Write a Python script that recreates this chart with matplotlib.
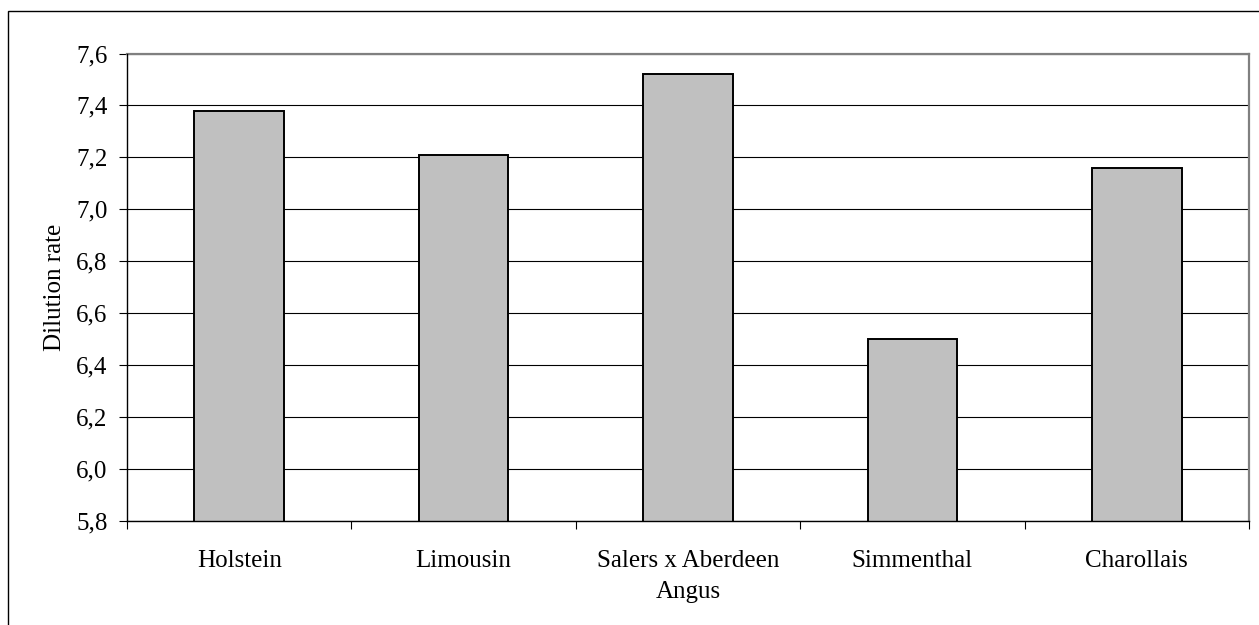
import matplotlib
matplotlib.use("Agg")
import matplotlib.pyplot as plt
from matplotlib.patches import Rectangle
from matplotlib.ticker import FixedLocator, FuncFormatter
import numpy as np

breeds = ["Holstein", "Limousin", "Salers x Aberdeen\nAngus", "Simmenthal", "Charollais"]
dilution_rate = [7.38, 7.21, 7.52, 6.50, 7.16]
y_ticks = [5.8, 6.0, 6.2, 6.4, 6.6, 6.8, 7.0, 7.2, 7.4, 7.6]

plt.rcParams["font.family"] = ["Liberation Serif", "DejaVu Serif"]

W, H = 1259, 625
fig = plt.figure(figsize=(W / 100, H / 100), dpi=100)
fig.patch.set_facecolor("white")

left, right, top, bottom = 127, 1249, 53.5, 520.5
ax = fig.add_axes([left / W, 1 - bottom / H, (right - left) / W, (bottom - top) / H])

x = np.arange(len(breeds))
ax.bar(x, dilution_rate, width=0.4, bottom=0, color="#c0c0c0",
       edgecolor="black", linewidth=1.4, zorder=3)

ax.set_xlim(-0.5, len(breeds) - 0.5)
ax.set_ylim(y_ticks[0], y_ticks[-1])

ax.yaxis.set_major_locator(FixedLocator(y_ticks))
ax.yaxis.set_major_formatter(FuncFormatter(lambda v, p: f"{v:.1f}".replace(".", ",")))
ax.grid(axis="y", color="black", linewidth=0.8, zorder=1)
ax.set_axisbelow(True)

# category labels centred, tick marks between categories
ax.set_xticks(x)
ax.set_xticklabels(breeds, fontsize=18, linespacing=1.55)
ax.tick_params(axis="x", which="major", length=0, pad=21)
ax.set_xticks(np.arange(-0.5, len(breeds)), minor=True)
ax.tick_params(axis="x", which="minor", length=6, width=0.8, direction="out", color="black")
ax.tick_params(axis="y", length=6, width=0.8, direction="out", labelsize=18, pad=8)

ax.set_ylabel("Dilution rate", fontsize=18)
ax.yaxis.set_label_coords(-(left - 66) / (right - left), 0.5)

for side in ("top", "right"):
    ax.spines[side].set_color("#808080")
    ax.spines[side].set_linewidth(1.6)
for side in ("left", "bottom"):
    ax.spines[side].set_color("black")
    ax.spines[side].set_linewidth(1.0)
    ax.spines[side].set_zorder(4)

# outer chart frame
fig.patches.append(Rectangle((8 / W, -0.05), 1.1, 1 - 11 / H + 0.05,
                             transform=fig.transFigure, fill=False,
                             edgecolor="black", linewidth=1.0, clip_on=False))

fig.savefig("out.png", dpi=100, facecolor="white")
